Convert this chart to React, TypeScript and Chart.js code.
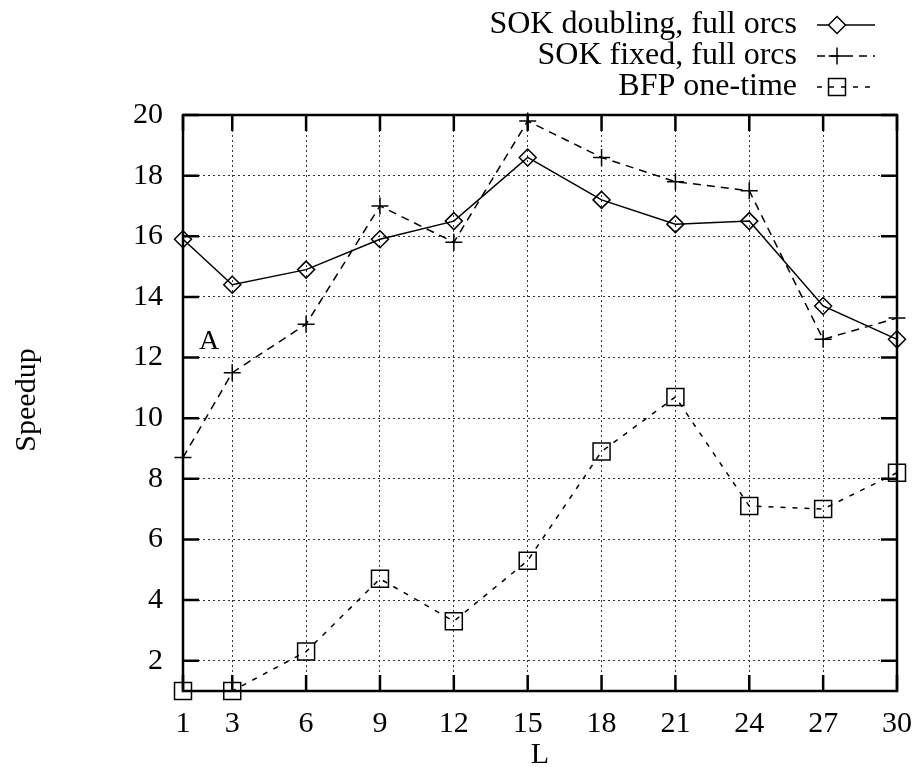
import React, { useEffect, useRef } from "react";
import { Chart, registerables } from "chart.js";

Chart.register(...registerables);

const xValues = [1, 3, 6, 9, 12, 15, 18, 21, 24, 27, 30];
const sokDoubling = [15.9, 14.4, 14.9, 15.9, 16.5, 18.6, 17.2, 16.4, 16.5, 13.7, 12.6];
const sokFixed = [8.7, 11.5, 13.1, 17.0, 15.8, 19.8, 18.6, 17.8, 17.5, 12.6, 13.3];
const bfpOneTime = [1.0, 1.0, 2.3, 4.7, 3.3, 5.3, 8.9, 10.7, 7.1, 7.0, 8.2];
const xTicks = [1, 3, 6, 9, 12, 15, 18, 21, 24, 27, 30];
const yTicks = [2, 4, 6, 8, 10, 12, 14, 16, 18, 20];
const seriesNames = ["SOK doubling, full orcs", "SOK fixed, full orcs", "BFP one-time"];
const xTitle = "L";
const yTitle = "Speedup";
const annotation = "A";

const FONT = "'Liberation Serif', 'Times New Roman', serif";

const toPoints = (ys: number[]) => xValues.map((x, i) => ({ x, y: ys[i] }));

const framePlugin = {
  id: "gnuplotFrame",
  afterDatasetsDraw(chart: any) {
    const { ctx, chartArea: a, scales } = chart;
    const xs = scales.x;
    const ys = scales.y;
    ctx.save();
    ctx.strokeStyle = "#000";
    ctx.lineWidth = 2.5;
    ctx.setLineDash([]);
    ctx.strokeRect(a.left, a.top, a.right - a.left, a.bottom - a.top);
    const tl = 16;
    ctx.beginPath();
    for (const v of yTicks) {
      const y = ys.getPixelForValue(v);
      ctx.moveTo(a.left, y);
      ctx.lineTo(a.left + tl, y);
      ctx.moveTo(a.right, y);
      ctx.lineTo(a.right - tl, y);
    }
    for (const v of xTicks) {
      const x = xs.getPixelForValue(v);
      ctx.moveTo(x, a.bottom);
      ctx.lineTo(x, a.bottom - tl);
      ctx.moveTo(x, a.top);
      ctx.lineTo(x, a.top + tl);
    }
    ctx.stroke();

    // axis titles
    ctx.fillStyle = "#000";
    ctx.font = `30px ${FONT}`;
    ctx.textAlign = "center";
    ctx.textBaseline = "middle";
    ctx.fillText(xTitle, (a.left + a.right) / 2, 755);
    ctx.save();
    ctx.translate(27, 400);
    ctx.rotate(-Math.PI / 2);
    ctx.fillText(yTitle, 0, 0);
    ctx.restore();

    // annotation label
    ctx.font = `28px ${FONT}`;
    ctx.textAlign = "center";
    ctx.fillText(annotation, 209, 342);

    // legend
    const rows = [25, 56, 87];
    ctx.font = `32px ${FONT}`;
    ctx.textAlign = "right";
    chart.data.datasets.forEach((ds: any, i: number) => {
      const y = rows[i];
      ctx.fillStyle = "#000";
      ctx.fillText(ds.label, 797, y);
      ctx.save();
      ctx.strokeStyle = "#000";
      ctx.lineWidth = ds.borderWidth;
      ctx.setLineDash(ds.borderDash || []);
      ctx.beginPath();
      ctx.moveTo(817, y);
      ctx.lineTo(875, y);
      ctx.stroke();
      ctx.setLineDash([]);
      ctx.lineWidth = ds.pointBorderWidth;
      const cx = 837;
      const r = ds.pointRadius;
      ctx.fillStyle = "#fff";
      ctx.beginPath();
      if (ds.pointStyle === "rectRot") {
        ctx.moveTo(cx - r, y);
        ctx.lineTo(cx, y - r);
        ctx.lineTo(cx + r, y);
        ctx.lineTo(cx, y + r);
        ctx.closePath();
        ctx.fill();
        ctx.stroke();
      } else if (ds.pointStyle === "cross") {
        ctx.moveTo(cx - r, y);
        ctx.lineTo(cx + r, y);
        ctx.moveTo(cx, y - r);
        ctx.lineTo(cx, y + r);
        ctx.stroke();
      } else {
        const s = r * Math.SQRT1_2;
        ctx.rect(cx - s, y - s, 2 * s, 2 * s);
        ctx.stroke();
      }
      ctx.restore();
    });
    ctx.restore();
  },
};

export default function App() {
  const ref = useRef<HTMLCanvasElement | null>(null);
  useEffect(() => {
    if (!ref.current) return;
    const chart = new Chart(ref.current, {
      type: "line",
      data: {
        datasets: [
          {
            label: seriesNames[0],
            data: toPoints(sokDoubling),
            borderColor: "#000",
            backgroundColor: "#fff",
            borderWidth: 1.5,
            pointStyle: "rectRot",
            pointRadius: 8.5,
            pointBorderWidth: 1.5,
            pointBackgroundColor: "rgba(255,255,255,0)",
            pointBorderColor: "#000",
            clip: false,
          },
          {
            label: seriesNames[1],
            data: toPoints(sokFixed),
            borderColor: "#000",
            borderWidth: 1.5,
            borderDash: [8, 6],
            pointStyle: "cross",
            pointRadius: 8.5,
            pointBorderWidth: 1.5,
            pointBorderColor: "#000",
            clip: false,
          },
          {
            label: seriesNames[2],
            data: toPoints(bfpOneTime),
            borderColor: "#000",
            borderWidth: 1.5,
            borderDash: [5, 7],
            pointStyle: "rect",
            pointRadius: 12,
            pointBorderWidth: 1.5,
            pointBackgroundColor: "rgba(255,255,255,0)",
            pointBorderColor: "#000",
            clip: false,
          },
        ] as any,
      },
      options: {
        animation: false,
        responsive: false,
        maintainAspectRatio: false,
        layout: { padding: { left: 0, top: 115, right: 17, bottom: 0 } },
        plugins: {
          legend: { display: false },
          tooltip: { enabled: false },
        },
        elements: { line: { tension: 0 } },
        scales: {
          x: {
            type: "linear",
            min: 1,
            max: 30,
            afterBuildTicks: (s: any) => {
              s.ticks = xTicks.map((v) => ({ value: v }));
            },
            afterFit: (s: any) => {
              s.height = 767 - 691;
              s.paddingLeft = 0;
              s.paddingRight = 0;
            },
            border: { display: false, dash: [2, 3] },
            grid: {
              color: "#333",
              lineWidth: 1,
              drawTicks: false,
            },
            ticks: {
              color: "#000",
              font: { family: FONT, size: 30 },
              padding: 15,
              maxRotation: 0,
              autoSkip: false,
            },
          },
          y: {
            type: "linear",
            min: 1,
            max: 20,
            afterBuildTicks: (s: any) => {
              s.ticks = yTicks.map((v) => ({ value: v }));
            },
            afterFit: (s: any) => {
              s.width = 183;
              s.paddingTop = 0;
              s.paddingBottom = 0;
            },
            border: { display: false, dash: [2, 3] },
            grid: {
              color: "#333",
              lineWidth: 1,
              drawTicks: false,
            },
            ticks: {
              color: "#000",
              font: { family: FONT, size: 30 },
              padding: 20,
              autoSkip: false,
            },
          },
        },
      } as any,
      plugins: [framePlugin],
    });
    return () => chart.destroy();
  }, []);
  return (
    <div style={{ position: "absolute", left: 0, top: 0, width: 914, height: 767, background: "#fff" }}>
      <canvas ref={ref} width={914} height={767} style={{ width: 914, height: 767 }} />
    </div>
  );
}
